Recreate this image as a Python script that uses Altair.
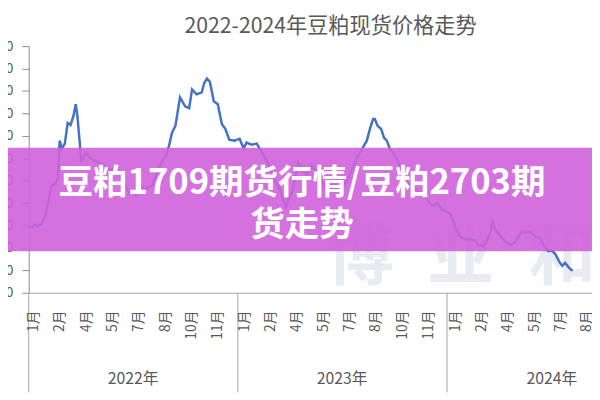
import altair as alt
import pandas as pd

# ---------------- data ----------------
dates = [
    "2022-01-02", "2022-01-07", "2022-01-12", "2022-01-17", "2022-01-24", "2022-01-29",
    "2022-02-05", "2022-02-10", "2022-02-17", "2022-02-21", "2022-02-24", "2022-02-28",
    "2022-03-05", "2022-03-10", "2022-03-15", "2022-03-20", "2022-03-24", "2022-03-27",
    "2022-04-03", "2022-04-08", "2022-04-12", "2022-04-17", "2022-04-25", "2022-05-07",
    "2022-05-16", "2022-05-25", "2022-06-02", "2022-06-09", "2022-06-18", "2022-06-25",
    "2022-07-02", "2022-07-07", "2022-07-14", "2022-07-21", "2022-07-27", "2022-08-05",
    "2022-08-14", "2022-08-19", "2022-08-27", "2022-09-03", "2022-09-08", "2022-09-14",
    "2022-09-22", "2022-10-01", "2022-10-08", "2022-10-13", "2022-10-21", "2022-10-30",
    "2022-11-03", "2022-11-08", "2022-11-13", "2022-11-20", "2022-11-27", "2022-12-04",
    "2022-12-10", "2022-12-17", "2022-12-26",
    "2023-01-04", "2023-01-11", "2023-01-16", "2023-01-25", "2023-02-03", "2023-02-08",
    "2023-02-15", "2023-02-20", "2023-02-25", "2023-03-06", "2023-03-14", "2023-03-21",
    "2023-03-26", "2023-04-01", "2023-04-07", "2023-04-16", "2023-04-23", "2023-05-01",
    "2023-05-10", "2023-05-19", "2023-05-29", "2023-06-07", "2023-06-15", "2023-06-24",
    "2023-07-02", "2023-07-11", "2023-07-20", "2023-07-28", "2023-08-06", "2023-08-14",
    "2023-08-20", "2023-08-25", "2023-08-28", "2023-09-02", "2023-09-08", "2023-09-13",
    "2023-09-18", "2023-09-23", "2023-10-02", "2023-10-07", "2023-10-14", "2023-10-24",
    "2023-11-05", "2023-11-14", "2023-11-22", "2023-11-27", "2023-12-06", "2023-12-15",
    "2023-12-23",
    "2024-01-01", "2024-01-08", "2024-01-13", "2024-01-18", "2024-01-25", "2024-02-03",
    "2024-02-11", "2024-02-20", "2024-02-25", "2024-03-05", "2024-03-10", "2024-03-17",
    "2024-03-20", "2024-03-27", "2024-04-05", "2024-04-13", "2024-04-22", "2024-04-30",
    "2024-05-09", "2024-05-18", "2024-05-25", "2024-06-02", "2024-06-11", "2024-06-19",
    "2024-06-25", "2024-07-03", "2024-07-08", "2024-07-15", "2024-07-20", "2024-07-25",
    "2024-08-01", "2024-08-07",
]
prices = [
    3740, 3729, 3762, 3740, 3773, 3838,
    4036, 4190, 4223, 4278, 4696, 4608,
    4663, 4893, 4871, 4970, 5102, 4970,
    4454, 4531, 4564, 4509, 4476, 4443,
    4399, 4366, 4388, 4311, 4201, 4113,
    4146, 4091, 4223, 4146, 4168, 4201,
    4344, 4443, 4509, 4641, 4784, 4861,
    5179, 5080, 5058, 5267, 5212, 5234,
    5333, 5388, 5355, 5135, 5102, 4882,
    4828, 4707, 4696,
    4718, 4608, 4674, 4652, 4663, 4608,
    4531, 4476, 4410, 4256, 4179, 4036,
    3959, 4069, 4146, 4454, 4388, 4311,
    4421, 4344, 4234, 4124, 4201, 4146,
    4168, 4256, 4388, 4509, 4608, 4696,
    4839, 4938, 4938, 4861, 4828, 4729,
    4696, 4608, 4531, 4476, 4344, 4223,
    4179, 4113, 4124, 4036, 3970, 4003,
    3926,
    3904, 3871, 3784, 3685, 3619, 3597,
    3597, 3586, 3531, 3520, 3575, 3685,
    3795, 3685, 3619, 3564, 3531, 3575,
    3674, 3674, 3685, 3630, 3608, 3520,
    3465, 3465, 3432, 3344, 3300, 3333,
    3278, 3245,
]

y_ticks = [3000, 3250, 3500, 3750, 4000, 4250, 4500, 4750, 5000, 5250, 5500, 5750]

month_labels = ["1月", "2月", "4月", "5月", "7月", "8月", "10月", "11月"] * 3
month_label_dates = [
    "2022-01-10", "2022-02-25", "2022-04-12", "2022-05-28", "2022-07-13", "2022-08-28", "2022-10-13", "2022-11-28",
    "2023-01-13", "2023-02-28", "2023-04-15", "2023-05-31", "2023-07-16", "2023-08-31", "2023-10-16", "2023-12-01",
    "2024-01-16", "2024-03-02", "2024-04-17", "2024-06-02", "2024-07-18", "2024-09-02", "2024-10-18", "2024-12-03",
]
year_labels = ["2022年", "2023年", "2024年"]
year_label_dates = ["2022-07-02", "2023-07-02", "2024-07-02"]
year_bounds = ["2022-01-01", "2023-01-01", "2024-01-01"]

title_text = "2022-2024年豆粕现货价格走势"
banner_lines = ["豆粕1709期货行情/豆粕2703期", "货走势"]
watermark_chars = ["博", "业", "和"]
watermark_dates = ["2023-08-02", "2024-01-25", "2024-07-20"]

FONT = "Noto Sans CJK SC"

line_df = pd.DataFrame({"date": dates, "price": prices})
month_df = pd.DataFrame({"date": month_label_dates, "label": month_labels})
month_df = month_df[month_df["date"] <= "2024-09-05"]
year_df = pd.DataFrame({"date": year_label_dates, "label": year_labels})
bound_df = pd.DataFrame({"date": year_bounds})
wm_df = pd.DataFrame({"date": watermark_dates, "label": watermark_chars})

x_scale = alt.Scale(
    type="utc",
    domain=[alt.DateTime(year=2022, month=1, date=1, utc=True),
            alt.DateTime(year=2024, month=9, date=10, utc=True)],
)
x_axis = alt.Axis(labels=False, ticks=False, grid=False, title=None,
                  domainColor="#a6a6a6", domainWidth=1)


def X():
    return alt.X("date:T", scale=x_scale, axis=x_axis)


watermark = alt.Chart(wm_df).mark_text(
    font=FONT, fontSize=68, fontWeight="bold", color="#e9ebf3", baseline="middle"
).encode(x=X(), y=alt.value(216), text="label:N")

line = alt.Chart(line_df).mark_line(color="#4472c4", strokeWidth=2.5, clip=True).encode(
    x=X(),
    y=alt.Y("price:Q",
            scale=alt.Scale(domain=[3000, 5750], nice=False, zero=False),
            axis=alt.Axis(values=y_ticks, title=None, grid=False, tickSize=7,
                          tickColor="#8c8c8c", domainColor="#8c8c8c",
                          labelFont=FONT, labelFontSize=14, labelColor="#595959",
                          labelPadding=9)),
)

bounds = alt.Chart(bound_df).mark_rule(color="#a6a6a6", strokeWidth=1).encode(
    x=X(), y=alt.value(250), y2=alt.value(351)
)

months = alt.Chart(month_df).mark_text(
    font=FONT, fontSize=14, color="#595959", angle=270, align="right", baseline="middle"
).encode(x=X(), y=alt.value(268), text="label:N")

years = alt.Chart(year_df).mark_text(
    font=FONT, fontSize=16, color="#595959", baseline="middle"
).encode(x=X(), y=alt.value(337), text="label:N")

title = alt.Chart(pd.DataFrame({"t": [title_text]})).mark_text(
    font=FONT, fontSize=21.5, color="#595959", baseline="middle"
).encode(x=alt.value(306), y=alt.value(-19), text="t:N")

banner = alt.Chart(pd.DataFrame({"k": [0]})).mark_rect(
    color="#d062da", opacity=0.9
).encode(x=alt.value(-21), x2=alt.value(571), y=alt.value(103), y2=alt.value(208))

banner_text = alt.Chart(pd.DataFrame({"t": banner_lines, "yy": [139, 181]})).mark_text(
    font=FONT, fontSize=35, fontWeight="bold", color="white", baseline="middle"
).encode(x=alt.value(277), y=alt.Y("yy:Q", scale=None), text="t:N")

chart = alt.layer(
    watermark, line, bounds, months, years, title, banner, banner_text
).properties(
    width=571, height=250,
    autosize=alt.AutoSizeParams(type="none"),
    padding={"left": 21, "top": 36, "right": 0, "bottom": 106},
    background="white",
).configure_view(stroke=None)

chart.save("out.html", embed_options={"renderer": "svg", "actions": False})
